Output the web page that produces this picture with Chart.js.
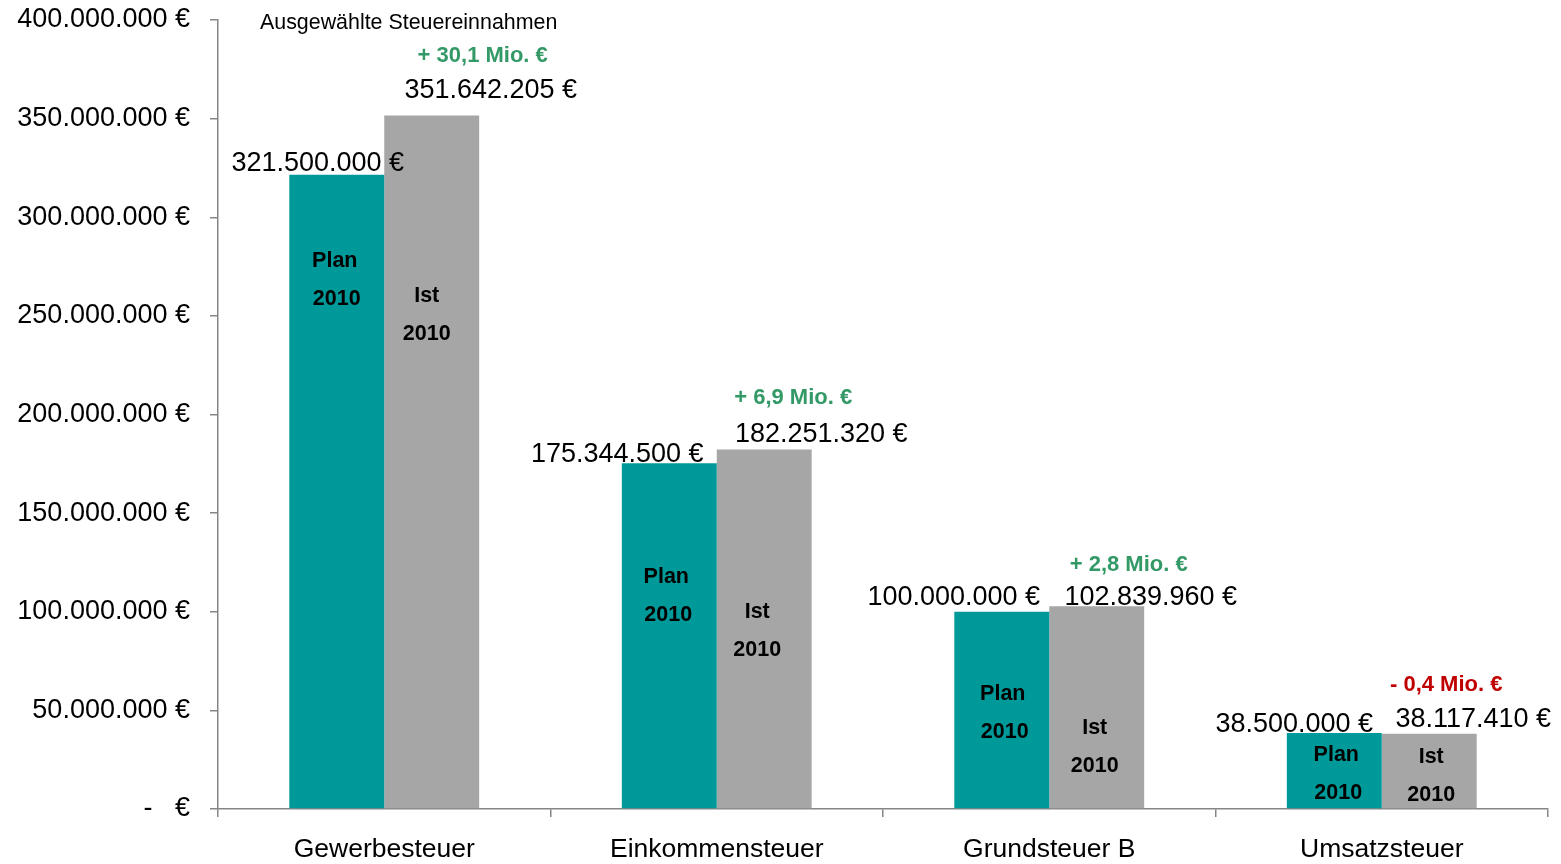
<!DOCTYPE html>
<html>
<head>
<meta charset="utf-8">
<script src="https://cdn.jsdelivr.net/npm/chart.js@4/dist/chart.umd.min.js"></script>
<style>
html,body{margin:0;padding:0;background:#fff;}
#wrap{width:1561px;height:864px;position:relative;}
</style>
</head>
<body>
<div id="wrap"><canvas id="c"></canvas></div>
<script>
const categories = ['Gewerbesteuer', 'Einkommensteuer', 'Grundsteuer B', 'Umsatzsteuer'];
const planValues = [321500000, 175344500, 100000000, 38500000];
const istValues = [351642205, 182251320, 102839960, 38117410];
const deltaLabels = ['+ 30,1 Mio. €', '+ 6,9 Mio. €', '+ 2,8 Mio. €', '- 0,4 Mio. €'];
const planInner = ['Plan', '2010'];
const istInner = ['Ist', '2010'];
const chartTitle = 'Ausgewählte Steuereinnahmen';
const yMin = 0, yMax = 400000000, yStep = 50000000;

const FONT = '"Liberation Sans", Arial, Helvetica, sans-serif';
const AXIS = '#868686';
const TEAL = '#009999';
const GREY = '#A6A6A6';
const GREEN = '#339966';
const RED = '#C00000';

function fmtEuro(v) {
  if (v === 0) return '-   €';
  return String(Math.round(v)).replace(/\B(?=(\d{3})+(?!\d))/g, '.') + ' €';
}

// label placement (pixel offsets relative to bar elements)
const layoutCfg = {
  planLabelDx: [-19, -52, -48, -40], planLabelDy: [-14, -11, -17, -11],
  istLabelDx: [59, 57, 54, 44], istLabelDy: [-27, -17, -11, -17],
  deltaDx: [-8, -28, -22, -27], deltaDy: [-35, -37, -33, -34],
  planInnerDy: [84, 111, 80, 20], planInnerDx: [-2, -3, 1, 2],
  istInnerDy: [178, 160, 119, 21], istInnerDx: [-5, -7, -2, 2],
  lineGap: 38,
  textShift: 2.5
};

const labelPlugin = {
  id: 'labels',
  afterDatasetsDraw(chart) {
    const ctx = chart.ctx;
    const plan = chart.getDatasetMeta(0).data;
    const ist = chart.getDatasetMeta(1).data;
    const L = layoutCfg;
    const t = L.textShift;
    ctx.save();
    ctx.textAlign = 'center';
    ctx.textBaseline = 'middle';
    for (let i = 0; i < categories.length; i++) {
      const p = plan[i], s = ist[i];
      ctx.fillStyle = '#000';
      ctx.font = '27px ' + FONT;
      ctx.fillText(fmtEuro(planValues[i]), p.x + L.planLabelDx[i], p.y + L.planLabelDy[i] + t);
      const ix = s.x + L.istLabelDx[i], iy = s.y + L.istLabelDy[i] + t;
      ctx.fillText(fmtEuro(istValues[i]), ix, iy);
      ctx.font = 'bold 22px ' + FONT;
      ctx.fillStyle = istValues[i] >= planValues[i] ? GREEN : RED;
      ctx.fillText(deltaLabels[i], ix + L.deltaDx[i], iy + L.deltaDy[i]);
      ctx.fillStyle = '#000';
      ctx.font = 'bold 21.5px ' + FONT;
      ctx.fillText(planInner[0], p.x + L.planInnerDx[i], p.y + L.planInnerDy[i] + t);
      ctx.fillText(planInner[1], p.x + L.planInnerDx[i] + 2, p.y + L.planInnerDy[i] + L.lineGap + t);
      ctx.fillText(istInner[0], s.x + L.istInnerDx[i], s.y + L.istInnerDy[i] + t);
      ctx.fillText(istInner[1], s.x + L.istInnerDx[i], s.y + L.istInnerDy[i] + L.lineGap + t);
    }
    const ca = chart.chartArea;
    ctx.textAlign = 'left';
    ctx.fillStyle = '#000';
    ctx.font = '21.4px ' + FONT;
    ctx.fillText(chartTitle, ca.left + 42, ca.top + 3);
    ctx.restore();
  }
};

new Chart(document.getElementById('c'), {
  type: 'bar',
  data: {
    labels: categories,
    datasets: [
      { label: 'Plan 2010', data: planValues, backgroundColor: TEAL, borderWidth: 0 },
      { label: 'Ist 2010', data: istValues, backgroundColor: GREY, borderWidth: 0 }
    ]
  },
  options: {
    responsive: true,
    maintainAspectRatio: false,
    animation: false,
    layout: { padding: { top: 0, right: 13, left: 0, bottom: 0 } },
    datasets: { bar: { categoryPercentage: 0.571, barPercentage: 1.0 } },
    plugins: { legend: { display: false }, tooltip: { enabled: false }, title: { display: false } },
    scales: {
      x: {
        offset: true,
        grid: { display: true, offset: true, drawOnChartArea: false, drawTicks: true, tickLength: 8, color: AXIS, lineWidth: 1.5 },
        border: { display: true, color: AXIS, width: 1.5 },
        ticks: { color: '#000', font: { family: FONT, size: 26.5 }, padding: 17, maxRotation: 0 },
        afterFit(s) { s.height = 55; }
      },
      y: {
        min: yMin, max: yMax,
        grid: { display: true, drawOnChartArea: false, drawTicks: true, tickLength: 8, color: AXIS, lineWidth: 1.5 },
        border: { display: true, color: AXIS, width: 1.5 },
        ticks: { stepSize: yStep, color: '#000', font: { family: FONT, size: 27 }, padding: 20, callback: v => fmtEuro(v) },
        afterFit(s) { s.width = 218; s.paddingTop = 20; s.paddingBottom = 20; }
      }
    }
  },
  plugins: [labelPlugin]
});
</script>
</body>
</html>
